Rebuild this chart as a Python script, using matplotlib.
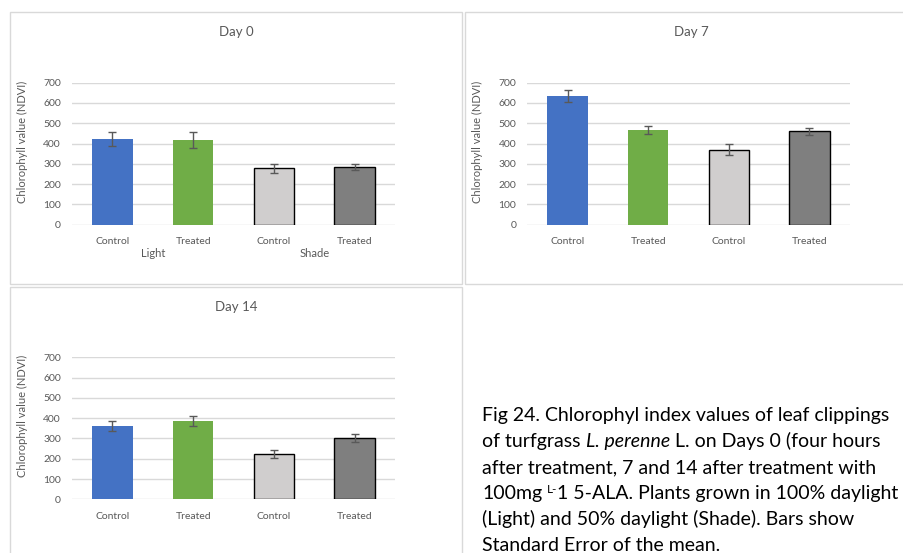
import matplotlib
matplotlib.use("Agg")
import matplotlib.pyplot as plt
from matplotlib.patches import Rectangle
import matplotlib.transforms as mtransforms
import numpy as np

# data
categories = ["Control", "Treated", "Control", "Treated"]
groups = ["Light", "Shade"]
day0_mean = [422, 419, 278, 284]
day0_se = [35, 40, 21, 16]
day7_mean = [633, 467, 370, 460]
day7_se = [29, 18, 26, 16]
day14_mean = [361, 386, 222, 302]
day14_se = [26, 24, 20, 20]
yticks = [0, 100, 200, 300, 400, 500, 600, 700]

colors = ["#4472C4", "#70AD47", "#D0CECE", "#7F7F7F"]
edges = ["none", "none", "black", "black"]

W, H = 904, 553
plt.rcParams['font.family'] = ['Lato', 'DejaVu Sans']

fig = plt.figure(figsize=(W / 100, H / 100), dpi=100)
fig.patch.set_facecolor("white")


def px_axes(x0, y0, x1, y1):
    return fig.add_axes([x0 / W, 1 - y1 / H, (x1 - x0) / W, (y1 - y0) / H])


def frame(x0, y0, x1, y1):
    r = Rectangle((x0 / W, 1 - y1 / H), (x1 - x0) / W, (y1 - y0) / H,
                  transform=fig.transFigure, fill=False, edgecolor="#D9D9D9", lw=1)
    fig.add_artist(r)


def panel(box, means, ses, title, title_xy, show_groups=False):
    ax = px_axes(*box)
    x = np.arange(len(categories))
    for i in range(len(x)):
        ax.bar(x[i], means[i], width=0.5, color=colors[i], edgecolor=edges[i],
               linewidth=1.0 if edges[i] != "none" else 0, zorder=3)
    ax.errorbar(x, means, yerr=ses, fmt="none", ecolor="#595959", elinewidth=1,
                capsize=3, capthick=1, zorder=4)
    ax.set_ylim(0, 700)
    ax.set_xlim(-0.5, 3.5)
    ax.set_yticks(yticks)
    ax.set_xticks(x)
    ax.set_xticklabels(categories)
    ax.tick_params(axis="both", length=0, labelsize=7.5, labelcolor="#595959")
    ax.tick_params(axis="x", pad=9)
    ax.tick_params(axis="y", pad=8)
    for s in ax.spines.values():
        s.set_visible(False)
    ax.grid(axis="y", color="#D9D9D9", lw=1, zorder=0)
    ax.set_axisbelow(True)
    ax.set_ylabel("Chlorophyll value (NDVI)", fontsize=8, color="#595959")
    ax.yaxis.set_label_coords(-0.137, 0.585)
    if show_groups:
        trans = mtransforms.blended_transform_factory(ax.transData, ax.transAxes)
        ax.text(0.5, -0.2, groups[0], transform=trans, ha="center", va="center",
                fontsize=8, color="#595959")
        ax.text(2.5, -0.2, groups[1], transform=trans, ha="center", va="center",
                fontsize=8, color="#595959")
    fig.text(title_xy[0] / W, 1 - title_xy[1] / H, title, ha="center", va="center",
             fontsize=9.5, color="#595959")
    return ax


frame(10, 12, 462, 284)
frame(465, 12, 910, 284)
frame(10, 287, 462, 560)

panel((72, 82.7, 395, 224.7), day0_mean, day0_se, "Day 0", (236, 32), show_groups=True)
panel((527.3, 82.7, 849.7, 224.7), day7_mean, day7_se, "Day 7", (691, 32))
panel((72, 357.3, 395, 499.3), day14_mean, day14_se, "Day 14", (236, 307))

# caption, each line as (text, style, size, rise, space after)
FS = 14
caption = [
    [("Fig 24. Chlorophyl index values of leaf clippings", "normal", FS, 0, False)],
    [("of turfgrass", "normal", FS, 0, True), ("L. perenne", "italic", FS, 0, True),
     ("L. on Days 0 (four hours", "normal", FS, 0, False)],
    [("after treatment, 7 and 14 after treatment with", "normal", FS, 0, False)],
    [("100mg", "normal", FS, 0, True), ("L-", "normal", 8.5, 6, False),
     ("1 5-ALA. Plants grown in 100% daylight", "normal", FS, 0, False)],
    [("(Light) and 50% daylight (Shade). Bars show", "normal", FS, 0, False)],
    [("Standard Error of the mean.", "normal", FS, 0, False)],
]

renderer = fig.canvas.get_renderer()
probe1 = fig.text(0, 0, "x x", fontsize=FS)
probe2 = fig.text(0, 0, "xx", fontsize=FS)
space_w = probe1.get_window_extent(renderer).width - probe2.get_window_extent(renderer).width
probe1.remove()
probe2.remove()

for i, pieces in enumerate(caption):
    x = 482.0
    y = 421 + 26 * i
    for txt, style, size, rise, gap in pieces:
        t = fig.text(x / W, 1 - (y - rise) / H, txt, ha="left", va="baseline",
                     fontsize=size, style=style, color="black")
        x += t.get_window_extent(renderer).width
        if gap:
            x += space_w

fig.savefig("out.png", dpi=100)
